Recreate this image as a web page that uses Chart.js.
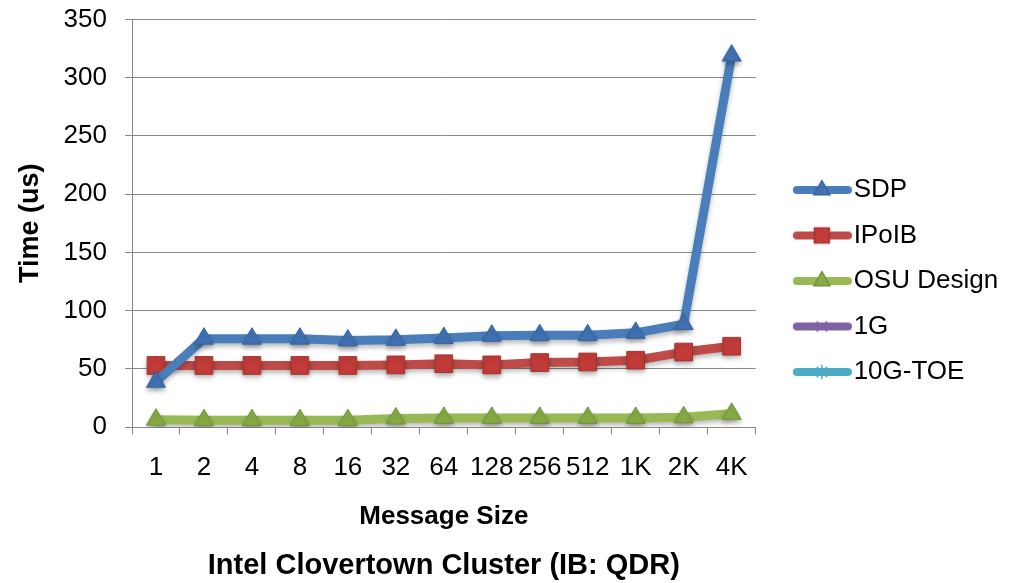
<!DOCTYPE html>
<html>
<head>
<meta charset="utf-8">
<title>Latency vs message size</title>
<script src="https://cdn.jsdelivr.net/npm/chart.js@4.4.1/dist/chart.umd.min.js"></script>
<style>
  html, body { margin: 0; padding: 0; background: #fff; }
  #wrap { width: 1013px; height: 583px; }
</style>
</head>
<body>
<div id="wrap"><canvas id="latencyChart" width="1013" height="583"></canvas></div>
<script>
// Message sizes on the x axis
const messageSizes = ['1', '2', '4', '8', '16', '32', '64', '128', '256', '512', '1K', '2K', '4K'];

// Latency in microseconds per transport
const sdpTimes     = [39, 76, 76, 76, 74.5, 75, 76.5, 78.5, 79, 79, 81, 88.5, 319];
const ipoibTimes   = [53, 53, 53, 53, 53, 53.5, 54.5, 53.5, 55.5, 56, 57.5, 64.5, 69.5];
const osuTimes     = [6.5, 6, 6, 6, 6, 7.5, 8, 8, 8, 8, 8, 8.5, 11.5];
const oneGTimes    = [];
const tenGToeTimes = [];

const yMax = 350;
const yStep = 50;

Chart.defaults.font.family = "'Liberation Sans', Arial, sans-serif";
Chart.defaults.color = '#000';

// Legend swatch: a short thick line with the series marker on it
function legendIcon(lineColor, pointStyle, fill, border, radius) {
  const c = document.createElement('canvas');
  c.width = 88;
  c.height = 26;
  const g = c.getContext('2d');
  g.lineCap = 'round';
  g.strokeStyle = lineColor;
  g.lineWidth = 8;
  g.beginPath();
  g.moveTo(33, 13);
  g.lineTo(84, 13);
  g.stroke();
  g.fillStyle = fill;
  g.strokeStyle = border;
  g.lineWidth = 1.5;
  Chart.helpers.drawPoint(g, { pointStyle, radius, rotation: 0, borderWidth: 1.5 }, 58, 13);
  return c;
}

const series = [
  { label: 'SDP',        data: sdpTimes,     line: '#4A7EBB', fill: '#4273B5', border: '#3763A0', style: 'triangle', r: 11 },
  { label: 'IPoIB',      data: ipoibTimes,   line: '#BE4B48', fill: '#C43C39', border: '#A53230', style: 'rect',     r: 12.5 },
  { label: 'OSU Design', data: osuTimes,     line: '#98B954', fill: '#87AD47', border: '#71933A', style: 'triangle', r: 11 },
  { label: '1G',         data: oneGTimes,    line: '#7E62A1', fill: '#7E62A1', border: '#7E62A1', style: 'crossRot', r: 8 },
  { label: '10G-TOE',    data: tenGToeTimes, line: '#4BACC6', fill: '#4BACC6', border: '#4BACC6', style: 'star',     r: 8 }
];

const legendIcons = series.map(s => legendIcon(s.line, s.style, s.fill, s.border, s.r * 0.85));

// Soft drop shadow under the lines and markers
const seriesShadow = {
  id: 'seriesShadow',
  beforeDatasetsDraw(chart) {
    const c = chart.ctx;
    c.save();
    c.shadowColor = 'rgba(0, 0, 0, 0.28)';
    c.shadowBlur = 5;
    c.shadowOffsetY = 3;
  },
  afterDatasetsDraw(chart) {
    chart.ctx.restore();
  }
};

new Chart(document.getElementById('latencyChart').getContext('2d'), {
  type: 'line',
  data: {
    labels: messageSizes,
    datasets: series.map(s => ({
      label: s.label,
      data: s.data,
      borderColor: s.line,
      backgroundColor: s.fill,
      borderWidth: 9,
      borderCapStyle: 'round',
      borderJoinStyle: 'round',
      tension: 0,
      fill: false,
      pointStyle: s.style,
      pointRadius: s.r,
      pointBackgroundColor: s.fill,
      pointBorderColor: s.border,
      pointBorderWidth: 1
    }))
  },
  plugins: [seriesShadow],
  options: {
    responsive: false,
    animation: false,
    layout: { padding: { top: 0, right: 5.5, left: 0, bottom: 0 } },
    scales: {
      x: {
        offset: true,
        grid: { display: true, drawOnChartArea: false, offset: true, tickLength: 7, color: '#888' },
        border: { color: '#888', width: 1 },
        ticks: { font: { size: 26 }, color: '#000', padding: 18, maxRotation: 0, minRotation: 0, autoSkip: false },
        title: { display: true, text: 'Message Size', font: { size: 26, weight: 'bold' }, color: '#000', padding: { top: 0, bottom: 9.6 } }
      },
      y: {
        min: 0,
        max: yMax,
        ticks: { stepSize: yStep, font: { size: 26 }, color: '#000', padding: 18 },
        grid: { color: '#888', tickLength: 7 },
        border: { color: '#888', width: 1 },
        title: { display: true, text: 'Time (us)', font: { size: 27, weight: 'bold' }, color: '#000', padding: { top: 14, bottom: 0 } },
        afterFit(scale) {
          scale.width = 132;
          scale.paddingTop = 19.5;
        }
      }
    },
    plugins: {
      title: {
        display: true,
        position: 'bottom',
        fullSize: false,
        text: 'Intel Clovertown Cluster (IB: QDR)',
        font: { size: 29, weight: 'bold' },
        color: '#000',
        padding: { top: 6, bottom: 0 }
      },
      legend: {
        position: 'right',
        align: 'start',
        fullSize: true,
        title: { display: true, text: ' ', font: { size: 10, lineHeight: 1 }, padding: { top: 147.5, bottom: 0 } },
        labels: {
          usePointStyle: true,
          pointStyleWidth: 65.5,
          padding: 19.5,
          font: { size: 26 },
          color: '#000',
          generateLabels: chart => chart.data.datasets.map((ds, i) => ({
            text: ds.label,
            pointStyle: legendIcons[i],
            datasetIndex: i,
            hidden: false,
            lineWidth: 0,
            fillStyle: ds.borderColor,
            strokeStyle: ds.borderColor,
            fontColor: '#000'
          }))
        }
      },
      tooltip: { enabled: false }
    }
  }
});
</script>
</body>
</html>
